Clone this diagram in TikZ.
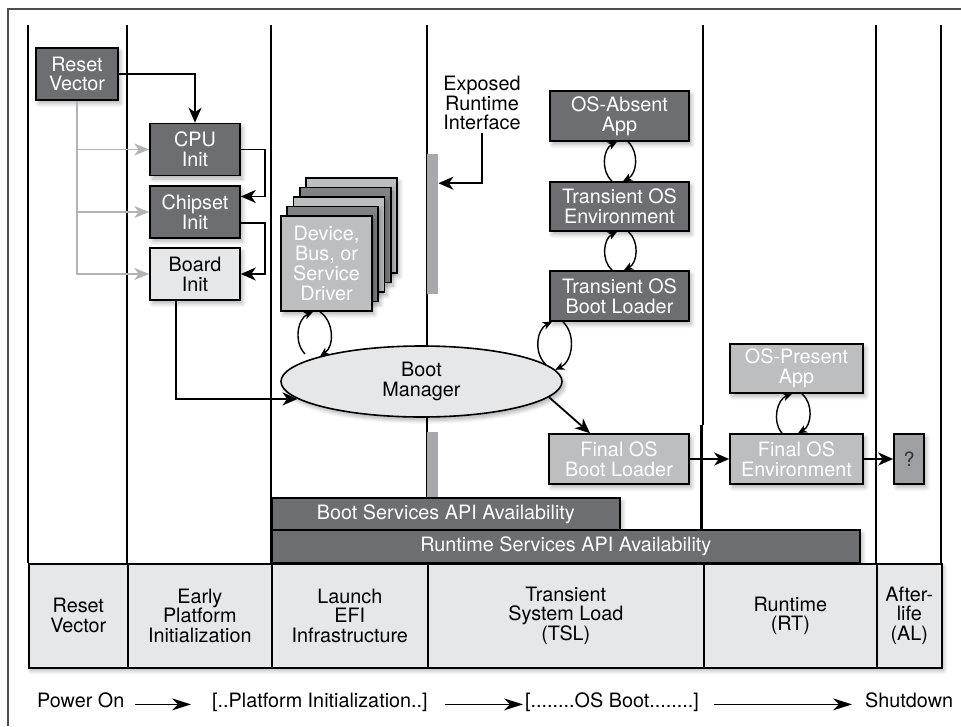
\documentclass[tikz,border=0pt]{standalone}
\usepackage{fontspec}
\setmainfont{TeX Gyre Heros}
\usetikzlibrary{arrows.meta,shapes.geometric,calc,shadows.blur}
\definecolor{dk}{HTML}{6D6E71}
\definecolor{md}{HTML}{BCBEC0}
\definecolor{mdd}{HTML}{808285}
\definecolor{lt}{HTML}{E6E7E8}
\definecolor{gbar}{HTML}{A7A9AC}
\definecolor{garr}{HTML}{B1B3B6}
\definecolor{qfill}{HTML}{9D9FA2}
\definecolor{frame}{HTML}{4D4D4F}
\begin{document}
\begin{tikzpicture}[x=1pt,y=-1pt,
  font=\fontsize{19.8}{19.8}\selectfont,
  box/.style={rectangle,draw=black,line width=1.6pt,inner sep=0pt,align=center},
  shad/.style={blur shadow={shadow xshift=2.5pt,shadow yshift=-3.5pt,shadow blur steps=6,shadow opacity=30,shadow blur radius=4pt}},
  dkbox/.style={box,shad,fill=dk,text=white},
  mdbox/.style={box,shad,fill=md,text=white},
  ltbox/.style={box,shad,fill=lt,text=black},
  cell/.style={box,fill=lt,text=black,minimum height=104,anchor=north west},
  lane/.style={line width=2.2pt,black},
  arr/.style={line width=1.8pt,-{Stealth[length=15pt,width=13pt,inset=4.5pt]}},
  garrow/.style={line width=1.8pt,draw=garr,-{Stealth[length=15pt,width=12pt,inset=4.5pt]}},
  cyc/.style={line width=1.4pt,-{Stealth[length=9pt,width=8pt,inset=2.5pt]},bend left=55},
  flow/.style={line width=1.6pt,-{Stealth[length=19pt,width=12pt,inset=6pt]}},
  lab/.style={inner sep=0pt,anchor=base west}
]
\useasboundingbox (0,0) rectangle (961,726);
% outer frame
\draw[line width=2pt,frame] (8,726) -- (8,9) -- (961,9);
% lanes
\foreach \x in {28,127,271,427,876,941} \draw[lane] (\x,25) -- (\x,563);
\draw[lane] (703,25) -- (703,425);
\draw[lane] (701.5,425) -- (701.5,563);
% runtime interface bars
\node[fill=gbar,minimum width=11,minimum height=140,inner sep=0pt,anchor=north west] (rtbar) at (427,154) {};
\node[fill=gbar,minimum width=11,minimum height=65,inner sep=0pt,anchor=north west] (rtbar2) at (427,432) {};
% early boxes
\node[dkbox,minimum width=82,minimum height=52] (rv) at (77,74) {Reset\\Vector};
\node[dkbox,minimum width=90,minimum height=52] (cpu) at (195,149.5) {CPU\\Init};
\node[dkbox,minimum width=90,minimum height=52] (chip) at (195,212) {Chipset\\Init};
\node[ltbox,minimum width=90,minimum height=52] (board) at (195,274) {Board\\Init};
% driver stack
\foreach \i/\c in {4/md,3/mdd,2/md,1/mdd}
  \node[box,shad,fill=\c,minimum width=91,minimum height=95] (drv\i) at ({326.5+6.25*\i},{263.5-9.5*\i}) {};
\node[mdbox,minimum width=91,minimum height=95] (drv) at (326.5,263.5) {Device,\\Bus, or\\Service\\Driver};
% boot manager
\node[ellipse,draw=black,line width=1.6pt,fill=lt,minimum width=281,minimum height=71,inner sep=0pt,align=center,shad] (bm) at (421.5,381.5) {Boot\\Manager};
% TSL boxes
\node[dkbox,minimum width=139,minimum height=50] (osa) at (619.5,116) {OS-Absent\\App};
\node[dkbox,minimum width=139,minimum height=49] (tenv) at (619.5,206.5) {Transient OS\\Environment};
\node[dkbox,minimum width=139,minimum height=50] (tbl) at (619.5,296) {Transient OS\\Boot Loader};
\node[mdbox,minimum width=140,minimum height=50] (fbl) at (619,459) {Final OS\\Boot Loader};
\node[mdbox,minimum width=133,minimum height=49] (osp) at (796.5,368.5) {OS-Present\\App};
\node[mdbox,minimum width=133,minimum height=50] (fenv) at (796.5,459) {Final OS\\Environment};
\node[box,shad,fill=qfill,text=black!80,minimum width=30,minimum height=50] (q) at (909,459) {?};
% exposed runtime interface
\node[align=center,inner sep=3pt] (ert) at (482,103) {Exposed\\Runtime\\Interface};
% API bars
\node[dkbox,minimum width=348,minimum height=32,anchor=north west] (bsb) at (271,497) {Boot Services API Availability};
\node[dkbox,minimum width=588,minimum height=33,anchor=north west] (rsb) at (271,529) {Runtime Services API Availability};
% bottom phase bar
\node[shad,fill=lt,minimum width=913,minimum height=104,inner sep=0pt,anchor=north west] (bb) at (28,563) {};
\node[cell,minimum width=99] (c1) at (28,563) {Reset\\Vector};
\node[cell,minimum width=144] (c2) at (127,563) {Early\\Platform\\Initialization};
\node[cell,minimum width=156] (c3) at (271,563) {Launch\\EFI\\Infrastructure};
\node[cell,minimum width=276] (c4) at (427,563) {Transient\\System Load\\(TSL)};
\node[cell,minimum width=173] (c5) at (703,563) {Runtime\\(RT)};
\node[cell,minimum width=65] (c6) at (876,563) {After-\\life\\(AL)};
% connectors
\draw[arr] (rv.east) -| (cpu.north);
\draw[garrow] (rv.south) |- (cpu.west);
\draw[garrow] (rv.south) |- (chip.west);
\draw[garrow] (rv.south) |- (board.west);
\draw[arr] (cpu.east) -- ++(24,0) |- ($(chip.north east)!0.21!(chip.south east)$);
\draw[arr] ($(chip.north east)!0.71!(chip.south east)$) -- ++(24,0) |- (board.east);
\draw[arr] ([xshift=-19pt]board.south) |- (bm.188);
\draw[arr] (ert.south) |- ([yshift=41pt]rtbar.east);
\draw[arr] (bm.-7) -- ([xshift=-29pt]fbl.north);
\draw[arr] (fbl.east) -- (fenv.west);
\draw[arr] (fenv.east) -- (q.west);
% cycle arrows
\draw[cyc] ([xshift=-7.5pt]tenv.north) to ([xshift=-2.5pt]osa.south);
\draw[cyc] ([xshift=8.5pt]osa.south) to ([xshift=3.5pt]tenv.north);
\draw[cyc] ([xshift=-7.5pt]tbl.north) to ([xshift=-2.5pt]tenv.south);
\draw[cyc] ([xshift=9pt]tenv.south) to ([xshift=4.5pt]tbl.north);
\draw[cyc] ([yshift=7pt]bm.170) to ([xshift=-13.5pt]drv.south);
\draw[cyc] ([xshift=-6.5pt]drv.south) to (bm.166.6);
\draw[cyc] (bm.8) to ([xshift=-67.5pt]tbl.south);
\draw[cyc] ([xshift=-56.5pt]tbl.south) to (bm.5);
\draw[cyc] ([xshift=-14.5pt]fenv.north) to ([xshift=-4.5pt]osp.south);
\draw[cyc] ([xshift=5.5pt]osp.south) to ([xshift=1.5pt]fenv.north);
% bottom flow line
\node[lab] (pon) at (37,707) {Power On};
\node[lab] (pli) at (212,707) {[..Platform Initialization..]};
\node[lab] (ob) at (525,707) {[........OS Boot........]};
\node[lab] (sd) at (865,707) {Shutdown};
\draw[flow,shorten <=10pt,shorten >=21pt] (pon.mid east) -- (pli.mid west);
\draw[flow,shorten <=17pt,shorten >=2pt] (pli.mid east) -- (ob.mid west);
\draw[flow,shorten <=15pt,shorten >=13pt] (ob.mid east) -- (sd.mid west);
\end{tikzpicture}
\end{document}
